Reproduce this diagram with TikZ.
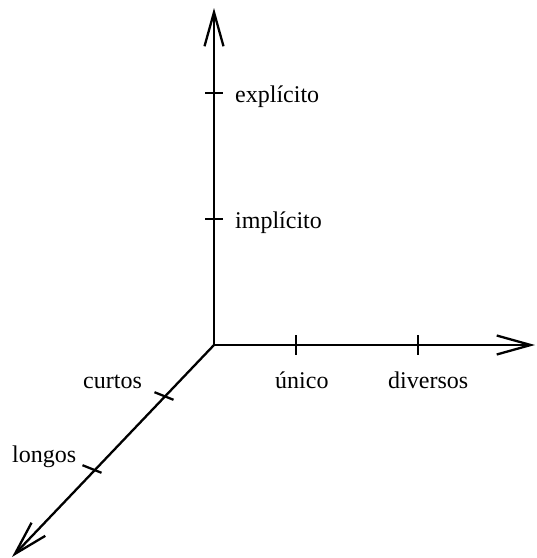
\documentclass[tikz,border=0pt]{standalone}
\usepackage{fontspec}
\setmainfont{Liberation Serif}
\usetikzlibrary{arrows.meta}
\begin{document}
\begin{tikzpicture}[x=1pt,y=-1pt,
  axis/.style={line width=2.3pt,-{Straight Barb[length=34pt,width=19pt,line width=2.3pt]}},
  tickmark/.style={line width=2.3pt},
  lbl/.style={anchor=base west,inner sep=0pt,font=\fontsize{24}{28}\selectfont}]
\useasboundingbox (0,0) rectangle (537,558);
\coordinate (O) at (214,345);
\coordinate (Ytip) at (214,8);
\coordinate (Xtip) at (535,345);
\coordinate (Ztip) at (12,557);
\draw[axis] (O) -- (Ytip);
\draw[axis] (O) -- (Xtip);
\draw[axis] (O) -- (Ztip);
% ticks on vertical axis
\coordinate (t1) at (214,93);
\coordinate (t2) at (214,219);
\draw[tickmark] ([xshift=-9pt]t1) -- ([xshift=9pt]t1);
\draw[tickmark] ([xshift=-9pt]t2) -- ([xshift=9pt]t2);
% ticks on horizontal axis
\coordinate (t3) at (296,345);
\coordinate (t4) at (418,345);
\draw[tickmark] ([yshift=10pt]t3) -- ([yshift=-10pt]t3);
\draw[tickmark] ([yshift=10pt]t4) -- ([yshift=-10pt]t4);
% ticks on diagonal axis
\coordinate (t5) at (164,396);
\coordinate (t6) at (92,469);
\draw[tickmark] ([shift={(-9.5,-3.8)}]t5) -- ([shift={(9.5,3.8)}]t5);
\draw[tickmark] ([shift={(-9.5,-3.8)}]t6) -- ([shift={(9.5,3.8)}]t6);
% labels
\node[lbl] (l1) at (235,102) {explícito};
\node[lbl] (l2) at (235,228) {implícito};
\node[lbl] (l3) at (275,388) {único};
\node[lbl] (l4) at (388,388) {diversos};
\node[lbl] (l5) at (83,388) {curtos};
\node[lbl] (l6) at (12,462) {longos};
\end{tikzpicture}
\end{document}
